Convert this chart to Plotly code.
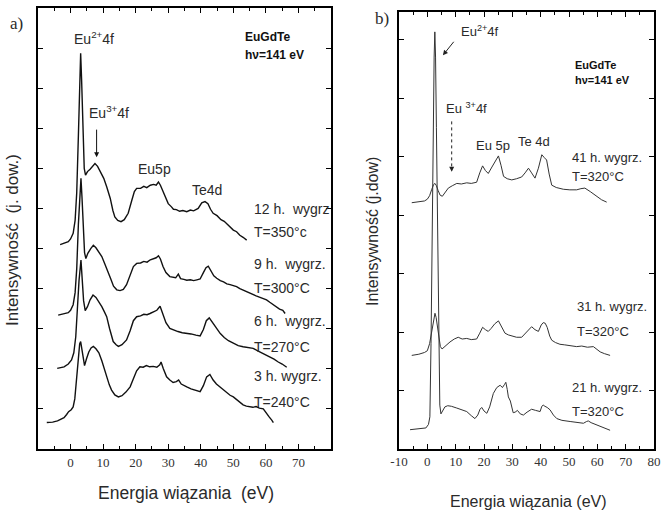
import plotly.graph_objects as go

# ---------------- Panel a) data (binding energy eV, intensity arb.) ----------------
a12_x = [-3.2, -1.5, -0.7, 0.0, 0.8, 1.4, 1.9, 2.4, 2.8, 3.1, 3.4, 3.8, 4.2, 4.6, 5.2, 6.0, 6.8, 7.5, 8.3, 9.2,
         10.2, 11.1, 12.2, 13.0, 13.6, 14.5, 15.5, 16.5, 17.7, 18.8, 19.6, 20.3, 21.5, 22.5, 23.4, 24.5, 25.5,
         26.3, 27.0, 27.6, 28.3, 29.0, 30.0, 31.0, 31.6, 32.5, 33.5, 34.5, 35.7, 36.8, 37.8, 39.2, 40.3, 41.3,
         42.2, 43.0, 43.8, 45.0, 46.2, 47.2, 48.0, 49.0, 50.0, 51.0, 52.0, 53.0, 54.1]
a12_y = [5.10, 5.14, 5.17, 5.24, 5.38, 5.7, 6.4, 7.8, 9.1, 9.87, 9.2, 7.9, 7.0, 6.83, 6.92, 6.98, 7.05, 7.12, 7.05, 6.92,
         6.75, 6.54, 6.25, 5.95, 5.79, 5.70, 5.67, 5.72, 5.88, 6.2, 6.42, 6.5, 6.5, 6.55, 6.52, 6.58, 6.6,
         6.58, 6.66, 6.58, 6.45, 6.29, 6.12, 6.04, 5.98, 5.97, 5.93, 5.95, 5.92, 5.96, 5.94, 6.0, 6.14, 6.17,
         6.12, 5.98, 5.88, 5.82, 5.72, 5.68, 5.62, 5.52, 5.46, 5.42, 5.33, 5.28, 5.21]

a9_x = [-3.8, -2.0, -0.7, 0.0, 0.8, 1.4, 1.9, 2.4, 2.8, 3.2, 3.5, 3.9, 4.3, 4.7, 5.3, 6.2, 7.0, 7.8, 8.7, 9.6,
        10.5, 11.4, 12.3, 13.2, 14.2, 15.2, 16.2, 17.2, 18.3, 19.3, 20.3, 21.5, 22.5, 23.5, 24.5, 25.5, 26.3,
        27.0, 27.6, 28.4, 29.3, 30.5, 31.5, 32.3, 33.1, 33.8, 34.8, 35.7, 36.8, 37.8, 38.8, 39.8, 40.8, 41.6,
        42.3, 43.2, 44.0, 44.9, 46.0, 47.0, 48.0, 49.0, 50.0, 51.0, 52.0, 53.0, 54.0, 55.0, 56.0, 57.0, 58.0,
        59.0, 60.2, 61.2, 62.2, 63.2, 64.2, 65.2, 65.9]
a9_y = [3.34, 3.37, 3.40, 3.46, 3.6, 3.9, 4.5, 5.6, 6.3, 6.75, 6.3, 5.5, 4.9, 4.75, 4.88, 5.0, 5.08, 5.02, 4.92, 4.8,
        4.62, 4.45, 4.25, 4.06, 3.97, 3.95, 3.98, 4.1, 4.35, 4.55, 4.63, 4.64, 4.68, 4.66, 4.72, 4.74, 4.77,
        4.82, 4.74, 4.55, 4.4, 4.30, 4.28, 4.27, 4.36, 4.25, 4.23, 4.21, 4.22, 4.20, 4.22, 4.24, 4.4, 4.52,
        4.56, 4.45, 4.32, 4.26, 4.2, 4.17, 4.12, 4.1, 4.07, 4.05, 4.0, 3.96, 3.93, 3.88, 3.86, 3.82, 3.79,
        3.76, 3.72, 3.66, 3.6, 3.54, 3.49, 3.46, 3.38]

a6_x = [-4.1, -2.0, -0.7, 0.3, 1.0, 1.6, 2.1, 2.6, 3.2, 3.6, 4.0, 4.5, 5.2, 6.0, 6.9, 7.8, 8.7, 9.6, 10.4, 11.1,
        12.0, 13.1, 14.0, 14.7, 15.8, 17.2, 18.3, 19.3, 20.3, 21.5, 22.5, 23.5, 24.4, 25.4, 26.5, 27.5, 28.3,
        29.3, 30.5, 31.8, 33.0, 34.3, 35.7, 37.0, 38.5, 39.8, 40.8, 41.7, 42.6, 43.6, 44.9, 46.0, 47.2, 48.5,
        50.0, 51.5, 53.0, 54.5, 56.1, 57.5, 59.0, 60.2, 61.3, 62.5, 63.8, 65.0, 66.4]
a6_y = [2.01, 2.05, 2.12, 2.22, 2.4, 2.8, 3.5, 4.2, 4.71, 4.3, 3.7, 3.45, 3.55, 3.72, 3.84, 3.78, 3.68, 3.55, 3.42, 3.30,
        3.0, 2.68, 2.6, 2.56, 2.6, 2.72, 2.95, 3.2, 3.30, 3.32, 3.36, 3.35, 3.38, 3.42, 3.46, 3.56, 3.38,
        3.15, 3.01, 2.96, 2.93, 2.9, 2.89, 2.87, 2.84, 2.82, 2.98, 3.2, 3.27, 3.15, 3.01, 2.88, 2.78, 2.7,
        2.64, 2.58, 2.55, 2.53, 2.51, 2.45, 2.39, 2.34, 2.30, 2.24, 2.17, 2.12, 2.04]

a3_x = [-7.3, -5.5, -4.0, -3.0, -2.0, -1.2, -0.6, 0.2, 0.8, 1.3, 1.8, 2.3, 2.8, 3.1, 3.5, 3.9, 4.3, 4.9, 5.6, 6.3,
        7.0, 7.8, 8.7, 9.6, 10.4, 11.1, 11.9, 12.6, 13.6, 14.7, 15.8, 17.0, 18.3, 19.3, 20.3, 21.3, 22.3, 23.3,
        24.3, 25.4, 26.5, 27.4, 27.8, 28.5, 29.5, 30.5, 31.5, 32.5, 33.2, 34.0, 35.0, 35.7, 37.0, 38.5, 39.8,
        40.8, 41.8, 42.8, 43.8, 44.8, 45.9, 47.0, 48.0, 49.0, 50.0, 51.0, 52.0, 53.0, 54.0, 55.1, 56.0, 57.0,
        58.0, 59.2, 60.0, 61.0, 61.8, 62.3]
a3_y = [0.66, 0.67, 0.70, 0.73, 0.78, 0.86, 0.93, 0.98, 1.05, 1.25, 1.7, 2.25, 2.62, 2.68, 2.45, 2.18, 2.08, 2.25, 2.42, 2.52,
        2.56, 2.5, 2.4, 2.2, 1.98, 1.80, 1.6, 1.47, 1.35, 1.30, 1.33, 1.42, 1.55, 1.75, 1.95, 2.05, 2.04, 2.08,
        2.05, 2.06, 2.04, 2.1, 2.17, 2.0, 1.8, 1.72, 1.66, 1.68, 1.72, 1.62, 1.57, 1.55, 1.5, 1.46, 1.43,
        1.58, 1.8, 1.86, 1.72, 1.62, 1.55, 1.46, 1.4, 1.34, 1.30, 1.23, 1.17, 1.1, 1.07, 1.05, 1.04, 1.06,
        1.02, 1.0, 0.9, 0.8, 0.72, 0.66]

# ---------------- Panel b) data ----------------
b41_x = [-5.5, -3.0, -1.0, 0.0, 0.8, 1.5, 2.2, 2.7, 3.2, 3.8, 4.5, 5.3, 6.2, 7.4, 8.8, 10.4, 12.0, 13.9, 15.5, 17.4,
         18.5, 19.5, 20.5, 21.5, 22.8, 24.0, 25.1, 26.0, 26.9, 28.2, 29.8, 31.5, 33.3, 34.5, 35.7, 36.8, 38.0,
         39.2, 40.4, 41.3, 42.1, 43.0, 43.9, 45.5, 48.0, 50.3, 52.7, 54.2, 55.6, 57.5, 59.8, 61.5, 63.3]
b41_y = [4.21, 4.22, 4.24, 4.27, 4.33, 4.43, 4.52, 4.54, 4.5, 4.42, 4.34, 4.32, 4.38, 4.46, 4.5, 4.54, 4.53, 4.55, 4.54, 4.56,
         4.72, 4.84, 4.76, 4.71, 4.82, 4.93, 5.01, 4.85, 4.66, 4.62, 4.60, 4.62, 4.65, 4.72, 4.80, 4.72, 4.63,
         4.8, 5.03, 4.98, 4.94, 4.7, 4.51, 4.47, 4.44, 4.43, 4.43, 4.45, 4.46, 4.4, 4.31, 4.26, 4.22]

b31_x = [-5.5, -3.0, -1.0, 0.0, 0.8, 1.5, 2.1, 2.7, 3.1, 3.6, 4.1, 4.6, 5.2, 5.9, 7.0, 8.0, 9.5, 10.9, 12.3, 13.9,
         15.5, 17.4, 18.5, 19.5, 20.5, 21.5, 22.5, 23.8, 25.1, 26.2, 27.4, 28.6, 29.8, 31.5, 33.3, 35.0, 36.8,
         38.0, 39.2, 40.2, 40.9, 41.6, 42.3, 43.2, 43.9, 45.2, 46.8, 48.5, 50.5, 52.7, 54.5, 56.5, 58.6, 60.0,
         61.0, 62.5, 64.5]
b31_y = [1.60, 1.62, 1.65, 1.68, 1.8, 2.0, 2.22, 2.32, 2.25, 2.05, 1.85, 1.75, 1.71, 1.74, 1.8, 1.83, 1.88, 1.91, 1.88, 1.89,
         1.87, 1.88, 1.98, 2.08, 2.04, 2.01, 2.06, 2.14, 2.19, 2.08, 1.98, 1.95, 1.93, 1.91, 1.91, 2.0, 2.09,
         2.04, 2.01, 2.12, 2.16, 2.15, 2.08, 1.93, 1.86, 1.82, 1.79, 1.78, 1.76, 1.75, 1.76, 1.74, 1.75, 1.7,
         1.66, 1.63, 1.60]

b21_x = [-6.1, -4.0, -2.0, -0.5, 0.4, 0.9, 1.3, 1.7, 2.1, 2.4, 2.65, 2.9, 3.2, 3.6, 4.0, 4.4, 4.8, 5.5, 6.2, 7.2,
         8.5, 10.4, 12.0, 13.9, 15.5, 16.8, 17.8, 18.6, 19.2, 20.0, 21.0, 22.0, 23.3, 24.5, 25.7, 26.5, 27.2,
         27.7, 28.2, 28.6, 29.3, 29.8, 30.3, 31.0, 31.8, 32.8, 33.9, 35.2, 36.8, 38.2, 39.8, 40.4, 40.9, 41.5,
         42.3, 43.3, 44.5, 45.7, 47.5, 50.4, 52.8, 55.1, 56.2, 56.8, 57.8, 59.8, 62.0, 64.5]
b21_y = [0.33, 0.34, 0.35, 0.36, 0.42, 0.55, 1.8, 3.8, 5.6, 6.7, 7.13, 6.7, 5.5, 3.6, 1.6, 0.75, 0.6, 0.66, 0.72, 0.74,
         0.73, 0.70, 0.67, 0.64, 0.57, 0.52, 0.58, 0.68, 0.71, 0.65, 0.61, 0.72, 0.95, 1.05, 1.09, 1.05, 1.1,
         1.14, 1.02, 0.89, 0.82, 0.72, 0.62, 0.63, 0.66, 0.6, 0.58, 0.63, 0.68, 0.66, 0.64, 0.73, 0.75, 0.73,
         0.71, 0.67, 0.58, 0.52, 0.49, 0.47, 0.46, 0.44, 0.47, 0.48, 0.45, 0.41, 0.37, 0.32]

# ---------------- Ticks ----------------
x_range = [-10, 80]
x_tickvals = [-10, 0, 10, 20, 30, 40, 50, 60, 70, 80]
xa_ticktext = ["", "0", "10", "20", "30", "40", "50", "60", "70", ""]
xb_ticktext = ["-10", "0", "10", "20", "30", "40", "50", "60", "70", "80"]
x_minor_dtick = 5

W, H = 662, 513
ML, MR, MT, MB = 38, 8, 8, 64
PW, PH = W - ML - MR, H - MT - MB
SANS = "Liberation Sans"
SERIF = "Liberation Serif"


def fx(px):
    return (px - ML) / PW


def fy(py):
    return (H - MB - py) / PH


fig = go.Figure()
for xs, ys in [(a12_x, a12_y), (a9_x, a9_y), (a6_x, a6_y), (a3_x, a3_y)]:
    fig.add_trace(go.Scatter(x=xs, y=ys, mode="lines", line=dict(color="#111", width=1.4),
                             xaxis="x", yaxis="y", showlegend=False, hoverinfo="skip"))
for xs, ys in [(b41_x, b41_y), (b31_x, b31_y), (b21_x, b21_y)]:
    fig.add_trace(go.Scatter(x=xs, y=ys, mode="lines", line=dict(color="#333", width=1.0),
                             xaxis="x2", yaxis="y2", showlegend=False, hoverinfo="skip"))


def xax(domain, anchor, text, lw):
    return dict(domain=domain, anchor=anchor, range=x_range, tickmode="array",
                tickvals=x_tickvals, ticktext=text, ticks="inside", ticklen=5, tickwidth=1,
                tickcolor="black", showline=True, linecolor="black", linewidth=lw, mirror="ticks",
                showgrid=False, zeroline=False, tickfont=dict(family=SERIF, size=13, color="#333"),
                minor=dict(dtick=x_minor_dtick, ticks="inside", ticklen=3, tickcolor="black"))


def yax(domain, anchor, rng, lw):
    return dict(domain=domain, anchor=anchor, range=rng, dtick=1, ticks="inside",
                ticklen=5, tickwidth=1, tickcolor="black", showticklabels=False, showline=True,
                linecolor="black", linewidth=lw, mirror="ticks", showgrid=False, zeroline=False)


fig.update_layout(
    template="none",
    width=W, height=H, margin=dict(l=ML, r=MR, t=MT, b=MB, autoexpand=False),
    paper_bgcolor="white", plot_bgcolor="white", showlegend=False,
    xaxis=xax([0, fx(331)], "y", xa_ticktext, 2),
    yaxis=yax([0, 1], "x", [0, 11], 2),
    xaxis2=xax([fx(399), 1], "y2", xb_ticktext, 1.5),
    yaxis2=yax([0, fy(12)], "x2", [0, 7.47], 1.5),
)


def txt(s, px, py, size=14, family=SANS, xanchor="left", color="#2a2a2a", angle=0, bold=False):
    if bold:
        s = "<b>" + s + "</b>"
    fig.add_annotation(text=s, x=fx(px), y=fy(py), xref="paper", yref="paper",
                       xanchor=xanchor, yanchor="middle", showarrow=False, textangle=angle,
                       font=dict(family=family, size=size, color=color))


# Panel a texts
txt("a)", 8, 24, size=17, family=SERIF)
txt("Eu<sup>2+</sup>4f", 72, 38)
txt("Eu<sup>3+</sup>4f", 87, 112)
txt("Eu5p", 154, 169, xanchor="center")
txt("Te4d", 207, 190, xanchor="center")
txt("EuGdTe", 243, 37, size=12, bold=True, color="#111")
txt("hν=141 eV", 243, 55, size=12, bold=True, color="#111")
for s, y in [("12 h.  wygrz", 209), ("T=350°c", 232), ("9 h.  wygrz.", 264), ("T=300°C", 288),
             ("6 h.  wygrz.", 321), ("T=270°C", 347), ("3 h. wygrz.", 376), ("T=240°C", 402)]:
    txt(s, 252, y)
txt("Intensywność  (j. dow.)", 12, 240, size=17, angle=-90, xanchor="center")
txt("Energia wiązania  (eV)", 186, 493, size=17.5, xanchor="center")

fig.add_annotation(x=8.0, y=7.28, xref="x", yref="y", text="", showarrow=True, ax=0, ay=-29,
                   arrowhead=2, arrowsize=1, arrowwidth=1, arrowcolor="#111")

# Panel b texts
txt("b)", 373, 19, size=17, family=SERIF)
txt("Eu<sup>2+</sup>4f", 459, 31, size=13)
txt("Eu <sup>3+</sup>4f", 444, 108, size=13)
txt("Eu 5p", 493, 145, size=13, xanchor="center")
txt("Te 4d", 534, 141, size=13, xanchor="center")
txt("EuGdTe", 573, 65, size=11, bold=True, color="#111")
txt("hν=141 eV", 573, 80, size=11, bold=True, color="#111")
for s, x, y in [("41 h. wygrz.", 570, 157), ("T=320°C", 570, 176), ("31 h. wygrz.", 575, 306),
                ("T=320°C", 575, 331), ("21 h. wygrz.", 570, 387), ("T=320°C", 570, 411)]:
    txt(s, x, y, size=13)
txt("Intensywność (j.dow)", 372, 232, size=16, angle=-90, xanchor="center")
txt("Energia wiązania (eV)", 528, 501, size=16, xanchor="center")

fig.add_annotation(x=5.5, y=6.73, xref="x2", yref="y2", text="", showarrow=True, ax=12, ay=-15,
                   arrowhead=2, arrowsize=1, arrowwidth=1, arrowcolor="#222")
fig.add_shape(type="line", x0=8.6, x1=8.6, y0=5.6, y1=4.8, xref="x2", yref="y2",
              line=dict(color="#222", width=1, dash="dot"))
fig.add_annotation(x=8.6, y=4.74, xref="x2", yref="y2", text="", showarrow=True, ax=0, ay=-6,
                   arrowhead=2, arrowsize=1, arrowwidth=1, arrowcolor="#222")

fig.write_html("out.html")
